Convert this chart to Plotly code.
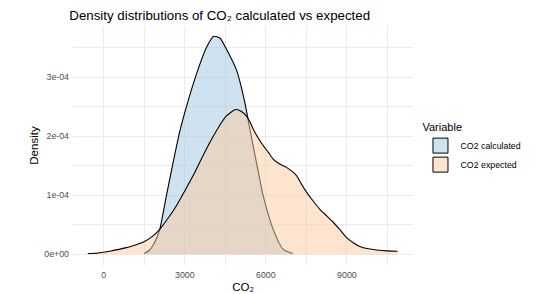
import numpy as np
import plotly.graph_objects as go

# Density curves (density values in units of 1e-4)
calc_x = [1500, 1700, 1889, 2074, 2321, 2568, 2800, 3062, 3432, 3802, 4074, 4300,
          4543, 4913, 5222, 5407, 5654, 5901, 6272, 6642, 7000]
calc_y = [0.01, 0.07, 0.20, 0.42, 0.99, 1.55, 2.05, 2.50, 3.05, 3.50, 3.69, 3.66,
          3.47, 3.12, 2.57, 2.12, 1.55, 0.99, 0.42, 0.08, 0.01]

exp_x = [-590, -200, 222, 840, 1200, 1457, 1800, 2074, 2400, 2691, 3000, 3309, 3600,
         3926, 4250, 4543, 4876, 5050, 5222, 5400, 5531, 5700, 5901, 6100, 6272, 6500,
         6765, 6950, 7136, 7300, 7506, 7750, 8000, 8250, 8494, 8750, 8988, 9250, 9481,
         9800, 10099, 10500, 10877]
exp_y = [0.01, 0.02, 0.05, 0.11, 0.16, 0.20, 0.30, 0.42, 0.62, 0.82, 1.07, 1.33, 1.60,
         1.89, 2.15, 2.34, 2.45, 2.43, 2.37, 2.25, 2.12, 1.98, 1.84, 1.72, 1.61, 1.53,
         1.47, 1.41, 1.33, 1.20, 1.05, 0.90, 0.76, 0.65, 0.54, 0.41, 0.28, 0.19, 0.13,
         0.09, 0.07, 0.055, 0.05]

series_names = ["CO2 calculated", "CO2 expected"]
x_tickvals = [0, 3000, 6000, 9000]
x_ticktext = ["0", "3000", "6000", "9000"]
y_tickvals = [0, 1e-4, 2e-4, 3e-4]
y_ticktext = ["0e+00", "1e-04", "2e-04", "3e-04"]

scale = 1e-4
fills = ["rgba(159,197,225,0.5)", "rgba(251,201,159,0.5)"]
key_colors = ["#cfe2f0", "#fde4cf"]

fig = go.Figure()
for name, xs, ys, fc in [(series_names[0], calc_x, calc_y, fills[0]),
                         (series_names[1], exp_x, exp_y, fills[1])]:
    fig.add_trace(go.Scatter(
        x=xs, y=np.array(ys) * scale, name=name, mode="lines",
        line=dict(color="black", width=1.1, shape="spline", smoothing=0.6),
        fill="tozeroy", fillcolor=fc, showlegend=False,
    ))
# legend keys (square boxes like ggplot)
for name, kc in zip(series_names, key_colors):
    fig.add_trace(go.Scatter(
        x=[None], y=[None], name=name, mode="markers",
        marker=dict(symbol="square", size=15, color=kc,
                    line=dict(color="black", width=1)),
    ))

font = "Liberation Sans, Arial, sans-serif"
W, H = 534, 286  # page adds an 8px body margin
fig.update_layout(
    width=W, height=H,
    margin=dict(l=64.7, r=128.7, t=18.3, b=28.8),
    paper_bgcolor="white", plot_bgcolor="white",
    font=dict(family=font, color="#000000"),
    title=dict(text="Density distributions of CO₂ calculated vs expected",
               x=61.3 / W, xref="container", xanchor="left",
               y=1 - 7 / H, yref="container", yanchor="middle",
               font=dict(size=13.3, color="#000000", family=font)),
    xaxis=dict(range=[-1137, 11447], tickvals=x_tickvals, ticktext=x_ticktext,
               showgrid=True, gridcolor="#ebebeb", gridwidth=1.1, zeroline=False,
               showline=False, ticks="", tickfont=dict(size=8.8, color="#4d4d4d"),
               ticklabelstandoff=3, automargin=False,
               minor=dict(tickvals=[-1500, 1500, 4500, 7500, 10500], showgrid=True,
                          gridcolor="#ebebeb", gridwidth=0.6),
               title=dict(text="CO₂", font=dict(size=11.5, color="#000000"), standoff=4)),
    yaxis=dict(range=[-0.184e-4, 3.864e-4], tickvals=y_tickvals, ticktext=y_ticktext,
               showgrid=True, gridcolor="#ebebeb", gridwidth=1.1, zeroline=False,
               showline=False, ticks="", tickfont=dict(size=8.8, color="#4d4d4d"),
               ticklabelstandoff=3, automargin=False,
               minor=dict(tickvals=[0.5e-4, 1.5e-4, 2.5e-4, 3.5e-4], showgrid=True,
                          gridcolor="#ebebeb", gridwidth=0.6),
               title=dict(text="Density", font=dict(size=11.5, color="#000000"), standoff=3)),
    legend=dict(title=dict(text="Variable", font=dict(size=11, color="#000000")),
                x=1.022, xanchor="left", y=0.62, yanchor="top",
                font=dict(size=8.8, color="#000000"), tracegroupgap=0,
                itemwidth=30, itemsizing="trace", bgcolor="rgba(0,0,0,0)"),
    showlegend=True,
)

fig.write_html("out.html")
